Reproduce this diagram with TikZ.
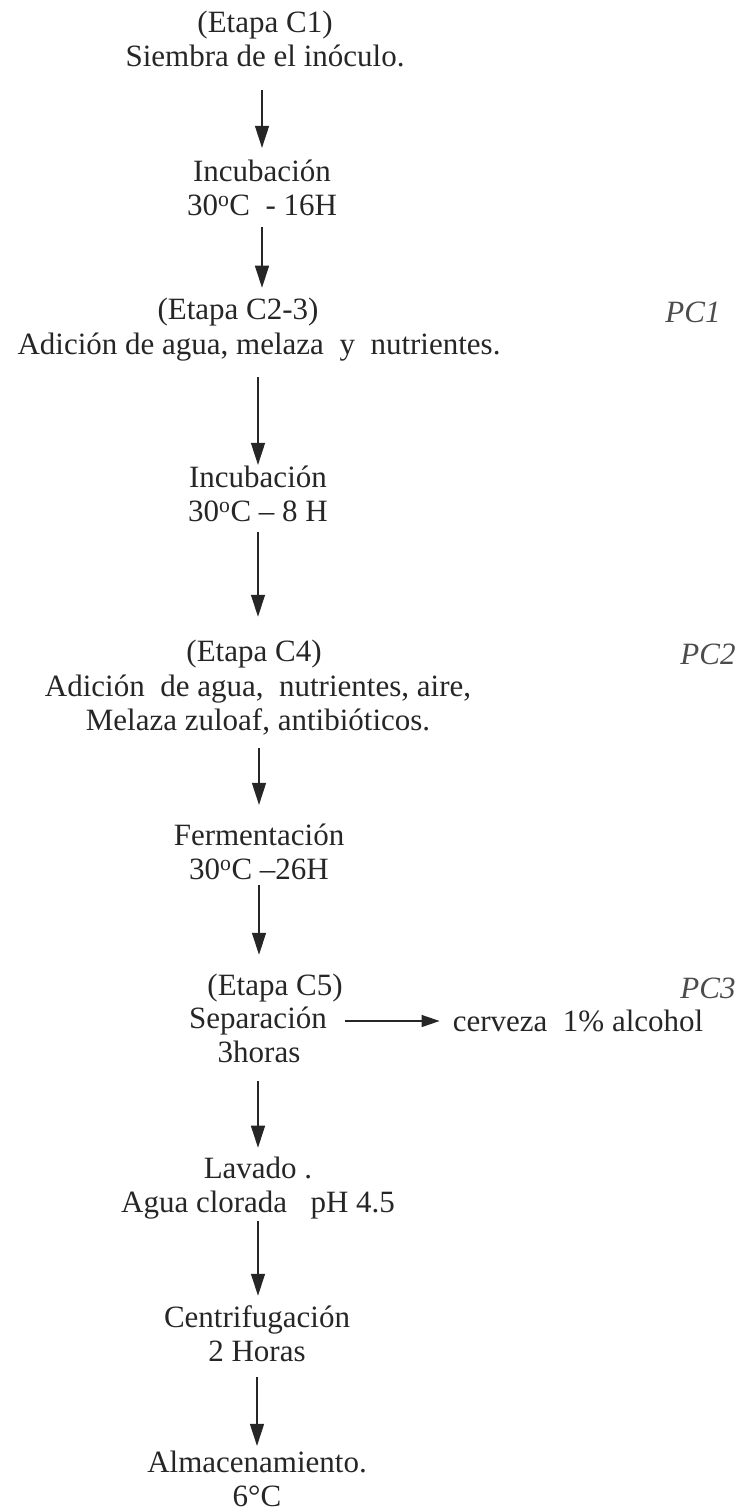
\documentclass[tikz,border=0pt]{standalone}
\usepackage{fontspec}
\setmainfont{Liberation Serif}
\usetikzlibrary{arrows.meta}
\begin{document}
\begin{tikzpicture}[x=1pt,y=-1pt,
  txt/.style={align=center,inner sep=0pt,font=\fontsize{31}{34}\selectfont,text=black!85},
  pc/.style={inner sep=0pt,font=\fontsize{31}{34}\selectfont\itshape,text=black!70},
  flow/.style={draw=black!85,line width=1.3pt,-{Triangle[length=22pt,width=14pt]}}]
  \useasboundingbox (0,0) rectangle (747,1512);
  % stages
  \node[txt] (c1) at (265,39) {(Etapa C1)\\Siembra de el inóculo.};
  \node[txt] (inc1) at (262,188) {Incubación\\30\textsuperscript{o}C\ \ - 16H};
  \node[txt] (c23) at (238,312) {(Etapa C2-3)};
  \node[txt] (add23) at (259,347) {Adición de agua, melaza\ \ y\ \ nutrientes.};
  \node[txt] (inc2) at (258,494) {Incubación\\30\textsuperscript{o}C -- 8 H};
  \node[txt] (c4) at (254,654) {(Etapa C4)};
  \node[txt] (add4) at (258,705) {Adición\ \ de agua,\ \ nutrientes, aire,\\Melaza zuloaf, antibióticos.};
  \node[txt] (ferm) at (259,852) {Fermentación\\30\textsuperscript{o}C --26H};
  \node[txt] (c5) at (275,988) {(Etapa C5)};
  \node[txt] (sep) at (258,1021) {Separación};
  \node[txt] (hrs) at (259,1052) {3horas};
  \node[txt] (cerv) at (578,1021) {cerveza\ \ 1\% alcohol};
  \node[txt] (lav) at (258,1188) {Lavado .\\Agua clorada\ \ \ pH 4.5};
  \node[txt] (cent) at (257,1334) {Centrifugación\\2 Horas};
  \node[txt] (alm) at (257,1479) {Almacenamiento.\\6°C};
  % control points
  \node[pc] (pc1) at (693,312) {PC1};
  \node[pc] (pc2) at (708,654) {PC2};
  \node[pc] (pc3) at (708,988) {PC3};
  % arrows
  \draw[flow,shorten <=23pt,shorten >=12pt] (inc1.north |- c1.south) -- (inc1.north);
  \draw[flow,shorten <=11pt,shorten >=10pt] (inc1.south) -- (inc1.south |- c23.north);
  \draw[flow,shorten <=16pt,shorten >=1pt] (inc2.north |- add23.south) -- (inc2.north);
  \draw[flow,shorten <=10pt,shorten >=23pt] (inc2.south) -- (inc2.south |- c4.north);
  \draw[flow,shorten <=13pt,shorten >=19pt] (ferm.north |- add4.south) -- (ferm.north);
  \draw[flow,shorten <=5pt,shorten >=19pt] (ferm.south) -- (ferm.south |- c5.north);
  \draw[flow,shorten <=18pt,shorten >=9pt] (lav.north |- hrs.south) -- (lav.north);
  \draw[flow,shorten <=2pt,shorten >=10pt] (lav.south) -- (lav.south |- cent.north);
  \draw[flow,shorten <=15pt,shorten >=5pt] (cent.south) -- (cent.south |- alm.north);
  \draw[flow,shorten <=18pt,shorten >=13pt,-{Triangle[length=18pt,width=12pt]}] (sep.east) -- (cerv.west);
\end{tikzpicture}
\end{document}
